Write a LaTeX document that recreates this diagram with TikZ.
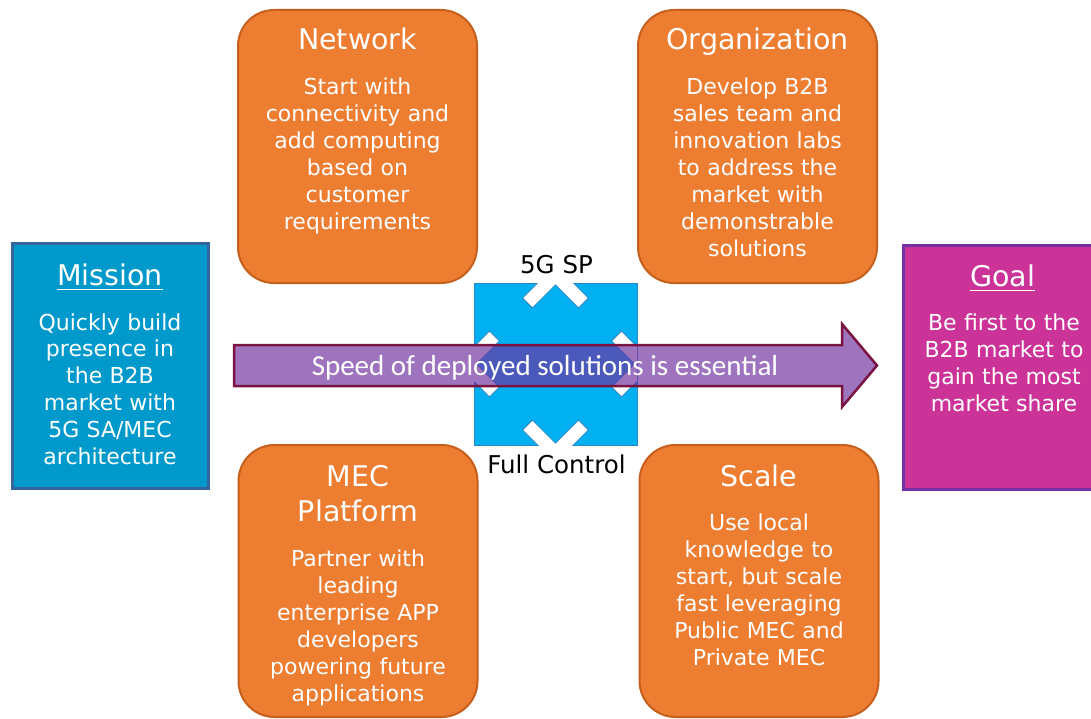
\documentclass[tikz,border=0pt]{standalone}
\usepackage{fontspec}
\setmainfont{DejaVu Sans}
\newfontfamily\arrowfont{Carlito}

\definecolor{boxorange}{HTML}{ED7D31}
\definecolor{boxorangeline}{HTML}{C65F1C}
\definecolor{missionfill}{HTML}{0099CC}
\definecolor{missionline}{HTML}{35659E}
\definecolor{goalfill}{HTML}{CC3399}
\definecolor{goalline}{HTML}{7431A6}
\definecolor{hubblue}{HTML}{00B0F0}
\definecolor{hubline}{HTML}{2A86C8}
\definecolor{arrowfill}{HTML}{7030A0}
\definecolor{arrowline}{HTML}{7A1340}

\tikzset{
  areabox/.style={draw=boxorangeline, fill=boxorange, line width=2pt,
    rounded corners=36pt, inner sep=0pt, minimum width=239pt, minimum height=273pt},
  sidebox/.style={line width=3pt, inner sep=0pt, minimum height=245pt},
  boxtitle/.style={text=white, font=\fontsize{28.5}{35.7}\selectfont, inner sep=0pt,
    anchor=base, align=center, text width=225pt},
  boxbody/.style={text=white, font=\fontsize{22}{27}\selectfont, inner sep=0pt,
    anchor=base, align=center, text width=#1},
  boxbody/.default=228pt,
  hublabel/.style={text=black, font=\fontsize{24.5}{30}\selectfont, inner sep=0pt, anchor=base},
  chevron/.style={fill=white, draw=hubline, line width=0.8pt, line join=miter},
  titlerule/.style={white, line width=1.5pt}
}

\begin{document}
\begin{tikzpicture}[x=1pt, y=-1pt]
  \useasboundingbox (0,0) rectangle (1091,719);
  \clip (0,0) rectangle (1091,719);

  % four orange focus areas
  \node[areabox] (net) at (357.5,146.5) {};
  \node[areabox] (org) at (757.5,146.5) {};
  \node[areabox, minimum height=272pt] (mec) at (358,581) {};
  \node[areabox, minimum height=272pt] (scale) at (759,581) {};

  % mission and goal panels
  \node[sidebox, draw=missionline, fill=missionfill, minimum width=196pt] (mission) at (110,366) {};
  \node[sidebox, draw=goalline, fill=goalfill, minimum width=197pt, minimum height=244pt] (goal) at (1001.5,367) {};

  % central hub square with four outward chevrons
  \node[draw=hubline, fill=hubblue, line width=0.8pt, inner sep=0pt,
        minimum width=163pt, minimum height=162pt] (hub) at (555.5,364) {};
  \begin{scope}[shift={(555.5,364)}]
    \clip (-81.5,-81) rectangle (81.5,81);
    \foreach \a in {0,90,180,270}{
      \draw[chevron, rotate=\a]
        (-32.95,-65.95) -- (0,-98.9) -- (32.95,-65.95) -- (23.05,-56.05)
        -- (0,-79.1) -- (-23.05,-56.05) -- cycle;
    }
  \end{scope}

  % translucent block arrow
  \draw[fill=arrowfill, fill opacity=0.67, draw=arrowline, line width=2.5pt, line join=miter]
    (234,345) -- (842,345) -- (842,324) -- (877,365.5) -- (842,407) -- (842,386)
    -- (234,386) -- cycle;
  \node[text=white, font=\arrowfont\fontsize{29}{35}\selectfont, inner sep=0pt, anchor=base]
    (speed) at (545,375) {Speed of deployed solutions is essential};

  % hub labels
  \node[hublabel] (sp) at (556.5,273.3) {5G SP};
  \node[hublabel] (ctrl) at (556.5,473.3) {Full Control};

  % texts of the orange areas
  \node[boxtitle] (nett) at (357.5,50) {Network};
  \node[boxbody] (netb) at (357.5,94.3) {Start with\\connectivity and\\add computing\\based on\\customer\\requirements};

  \node[boxtitle] (orgt) at (757.5,50) {Organization};
  \node[boxbody] (orgb) at (757.5,94.3) {Develop B2B\\sales team and\\innovation labs\\to address the\\market with\\demonstrable\\solutions};

  \node[boxtitle] (mect) at (358,486) {MEC\\Platform};
  \node[boxbody] (mecb) at (358,566) {Partner with\\leading\\enterprise APP\\developers\\powering future\\applications};

  \node[boxtitle] (scalet) at (759,486.7) {Scale};
  \node[boxbody] (scaleb) at (759,530.7) {Use local\\knowledge to\\start, but scale\\fast leveraging\\Public MEC and\\Private MEC};

  % mission and goal texts
  \node[text=white, font=\fontsize{28.5}{35}\selectfont, inner sep=0pt, anchor=base] (mist) at (110,285) {Mission};
  \draw[titlerule] ([yshift=-4.5pt]mist.base west) -- ([yshift=-4.5pt]mist.base east);
  \node[boxbody=190pt, font=\fontsize{22}{26.8}\selectfont] (misb) at (110,330) {Quickly build\\presence in\\the B2B\\market with\\5G SA/MEC\\architecture};

  \node[text=white, font=\fontsize{28.5}{35}\selectfont, inner sep=0pt, anchor=base] (goalt) at (1002.5,286) {Goal};
  \draw[titlerule] ([yshift=-4.5pt]goalt.base west) -- ([yshift=-4.5pt]goalt.base east);
  \node[boxbody=185pt] (goalb) at (1004,330) {Be first to the\\B2B market to\\gain the most\\market share};
\end{tikzpicture}
\end{document}
